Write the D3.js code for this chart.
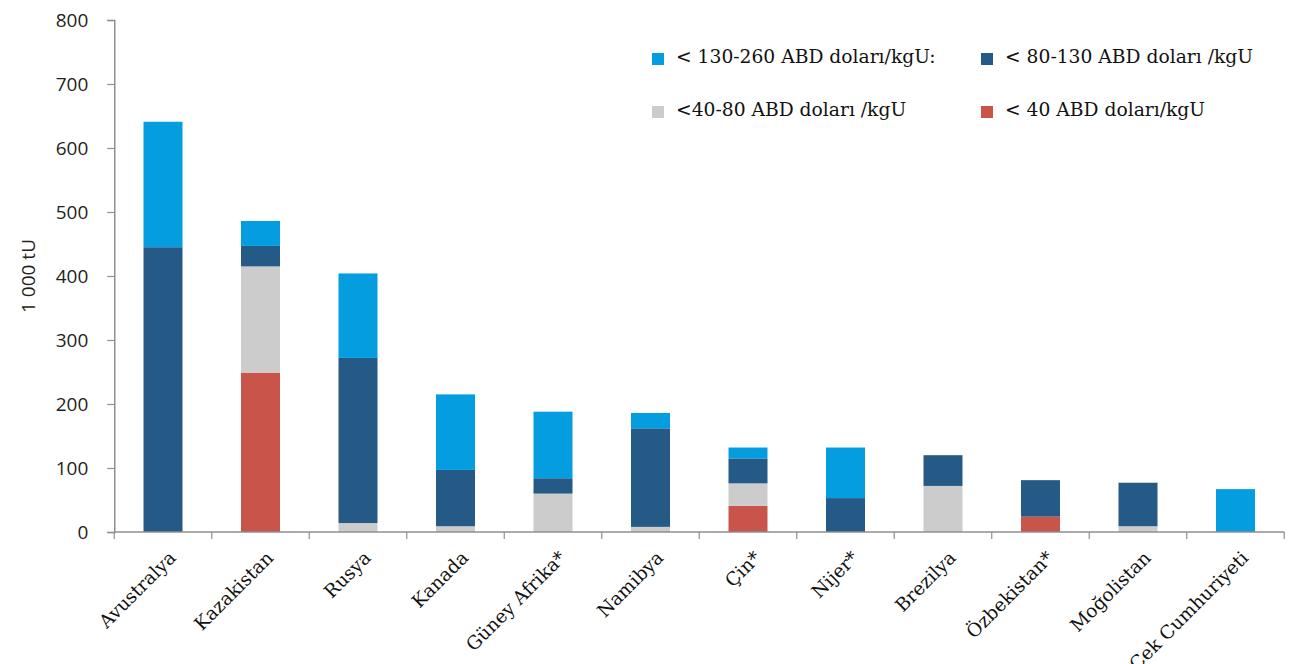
<!DOCTYPE html>
<html>
<head>
<meta charset="utf-8">
<script src="https://cdn.jsdelivr.net/npm/d3@7"></script>
<style>
  html, body { margin: 0; padding: 0; background: #fff; overflow: hidden; }
  svg { display: block; }
</style>
</head>
<body>
<svg id="chart" width="1291" height="664"></svg>
<script>
// ---- data ----
const categories = ["Avustralya", "Kazakistan", "Rusya", "Kanada", "Güney Afrika*", "Namibya", "Çin*", "Nijer*", "Brezilya", "Özbekistan*", "Moğolistan", "Çek Cumhuriyeti"];
const seriesNames = ["< 40 ABD doları/kgU", "<40-80 ABD doları /kgU", "< 80-130 ABD doları /kgU", "< 130-260 ABD doları/kgU:"];
const below40   = [0, 249, 0, 0, 0, 0, 41, 0, 0, 24, 0, 0];
const from40to80 = [0, 166, 14, 9, 60, 8, 35, 0, 72, 0, 9, 0];
const from80to130 = [445, 32, 258, 88, 24, 154, 39, 53, 48, 57, 68, 0];
const from130to260 = [196, 39, 132, 118, 104, 24, 17, 79, 0, 0, 0, 67];
const yTicks = [0, 100, 200, 300, 400, 500, 600, 700, 800];
const yLabel = "1 000 tU";
const colors = ["#c8544a", "#cccccc", "#265a86", "#049de0"];

// ---- layout ----
const svg = d3.select("#chart");
const mLeft = 114.25, mRight = 1284.25, mTop = 20, mBottom = 532;
const serif = "'DejaVu Serif', serif";
const sans = "'Open Sans', 'Noto Sans', sans-serif";

const x = d3.scaleBand().domain(categories).range([mLeft, mRight]).paddingInner(0.6).paddingOuter(0.3);
const y = d3.scaleLinear().domain([0, 800]).range([mBottom, mTop]);

const rows = categories.map((c, i) => ({
  cat: c, s0: below40[i], s1: from40to80[i], s2: from80to130[i], s3: from130to260[i]
}));
const stack = d3.stack().keys(["s0", "s1", "s2", "s3"])(rows);

// bars
svg.append("g").selectAll("g").data(stack).join("g")
  .attr("fill", (d, i) => colors[i])
  .selectAll("rect").data(d => d).join("rect")
  .attr("x", d => x(d.data.cat))
  .attr("width", x.bandwidth())
  .attr("y", d => y(d[1]))
  .attr("height", d => Math.max(0, y(d[0]) - y(d[1])));

// y axis
const yAxis = svg.append("g").attr("transform", `translate(${mLeft},0)`)
  .call(d3.axisLeft(y).tickValues(yTicks).tickSize(7).tickPadding(19).tickFormat(d3.format("d")));
yAxis.select(".domain").attr("stroke", "#8f8f8f").attr("stroke-width", 1.5);
yAxis.selectAll(".tick line").attr("stroke", "#8f8f8f").attr("stroke-width", 1.2);
yAxis.selectAll(".tick text").attr("font-family", sans).attr("font-size", "19px").attr("fill", "#231f20");

// x axis
const xAxisG = svg.append("g");
xAxisG.append("line")
  .attr("x1", mLeft).attr("x2", mRight).attr("y1", mBottom).attr("y2", mBottom)
  .attr("stroke", "#8f8f8f").attr("stroke-width", 1.5);
const boundaries = d3.range(categories.length + 1).map(i => mLeft + i * x.step());
xAxisG.selectAll("line.tk").data(boundaries).join("line").attr("class", "tk")
  .attr("x1", d => d).attr("x2", d => d).attr("y1", mBottom).attr("y2", mBottom + 7)
  .attr("stroke", "#8f8f8f").attr("stroke-width", 1.2);
xAxisG.selectAll("text").data(categories).join("text")
  .attr("transform", d => `translate(${x(d) + x.bandwidth() / 2 + 14},${mBottom + 27}) rotate(-45)`)
  .attr("text-anchor", "end")
  .attr("font-family", serif).attr("font-size", "18.5px").attr("fill", "#111")
  .text(d => d);

// y label
svg.append("text")
  .attr("transform", `translate(35,${(mTop + mBottom) / 2}) rotate(-90)`)
  .attr("text-anchor", "middle")
  .attr("font-family", sans).attr("font-size", "19px").attr("fill", "#231f20")
  .text(yLabel);

// legend
const legendItems = [
  { name: seriesNames[3], color: colors[3], lx: 652, ly: 63 },
  { name: seriesNames[2], color: colors[2], lx: 981, ly: 63 },
  { name: seriesNames[1], color: colors[1], lx: 652, ly: 116 },
  { name: seriesNames[0], color: colors[0], lx: 981, ly: 116 }
];
const lg = svg.append("g").selectAll("g").data(legendItems).join("g")
  .attr("transform", d => `translate(${d.lx},${d.ly})`);
lg.append("rect").attr("x", 0).attr("y", -10).attr("width", 12).attr("height", 12).attr("fill", d => d.color);
lg.append("text").attr("x", 24).attr("y", 0)
  .attr("font-family", serif).attr("font-size", "18.7px").attr("fill", "#111")
  .text(d => d.name);
</script>
</body>
</html>
